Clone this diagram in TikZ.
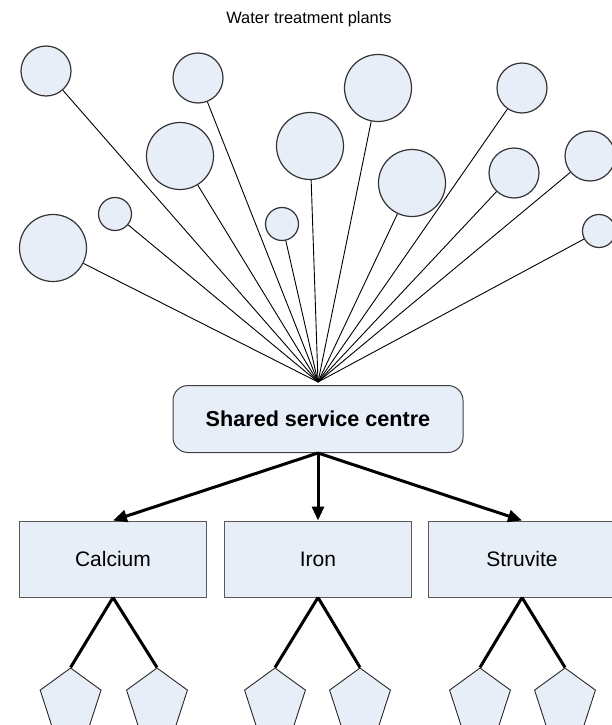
\documentclass[tikz,border=0pt]{standalone}
\usepackage{fontspec}
\setmainfont{Liberation Sans}
\usepackage{xcolor}
\usetikzlibrary{arrows.meta}
\usetikzlibrary{shapes.geometric}
\usetikzlibrary{positioning, calc}
\definecolor{plantblue}{RGB}{232,238,248}

\begin{document}
\begin{tikzpicture}[x=1pt,y=-1pt]
\useasboundingbox (0,0) rectangle (612,725);

\node[anchor=base,font=\fontsize{16.4}{18}\selectfont] (title) at (309,24) {Water treatment plants};
\coordinate (hub) at (318,382);

% treatment plants
\begin{scope}[every node/.style={circle,draw=black!80,line width=1.2pt,fill=plantblue,inner sep=0pt}]
    \node[minimum size=50pt] (W1) at (46,71) {};
    \node[minimum size=50pt] (W2) at (198,78) {};
    \node[minimum size=67pt] (W3) at (180,156) {};
    \node[minimum size=67pt] (W4) at (53,248) {};
    \node[minimum size=33pt] (W5) at (115,214) {};
    \node[minimum size=67pt] (W6) at (310,146) {};
    \node[minimum size=33pt] (W7) at (282,224) {};
    \node[minimum size=67pt] (W8) at (378,88) {};
    \node[minimum size=67pt] (W9) at (412,183) {};
    \node[minimum size=50pt] (W10) at (522,88) {};
    \node[minimum size=50pt] (W11) at (514,173) {};
    \node[minimum size=50pt] (W12) at (590,156) {};
    \node[minimum size=33pt] (W13) at (599,231) {};
\end{scope}

\begin{scope}[every edge/.style={draw=black,line width=0.9pt}]
    \path (W1) edge (hub);
    \path (W2) edge (hub);
    \path (W3) edge (hub);
    \path (W4) edge (hub);
    \path (W5) edge (hub);
    \path (W6) edge (hub);
    \path (W7) edge (hub);
    \path (W8) edge (hub);
    \path (W9) edge (hub);
    \path (W10) edge (hub);
    \path (W11) edge (hub);
    \path (W12) edge (hub);
    \path (W13) edge (hub);
\end{scope}

% service centre and products
\node[draw=black!75,fill=plantblue,rounded corners=15pt,line width=1pt,
      minimum width=290pt,minimum height=67pt,
      font=\bfseries\fontsize{21.6}{24}\selectfont] (ssc) at (318,419) {Shared service centre};

\begin{scope}[every node/.style={draw=black!65,fill=plantblue,line width=1pt,
              minimum width=187pt,minimum height=76pt,font=\fontsize{21}{24}\selectfont}]
    \node (cal) at (113,559) {Calcium};
    \node (iron) at (318,559) {Iron};
    \node (struv) at (522,559) {Struvite};
\end{scope}

\begin{scope}[every node/.style={regular polygon,regular polygon sides=5,draw=black!85,
              line width=0.9pt,fill=plantblue,minimum size=64pt,inner sep=0pt}]
    \node (cal1) at (70.6,700) {};
    \node (cal2) at (157,700) {};
    \node (iron1) at (275,700) {};
    \node (iron2) at (360,700) {};
    \node (struv1) at (480,700) {};
    \node (struv2) at (565,700) {};
\end{scope}

\begin{scope}[>={Triangle[length=14pt,width=12pt]},
              every edge/.style={draw=black,line width=3pt}]
    \path [->] (ssc.south) edge (cal.north);
    \path [->] (ssc.south) edge (iron.north);
    \path [->] (ssc.south) edge (struv.north);
    \path (cal.south) edge (cal1.corner 1);
    \path (cal.south) edge (cal2.corner 1);
    \path (iron.south) edge (iron1.corner 1);
    \path (iron.south) edge (iron2.corner 1);
    \path (struv.south) edge (struv1.corner 1);
    \path (struv.south) edge (struv2.corner 1);
\end{scope}
\end{tikzpicture}
\end{document}
